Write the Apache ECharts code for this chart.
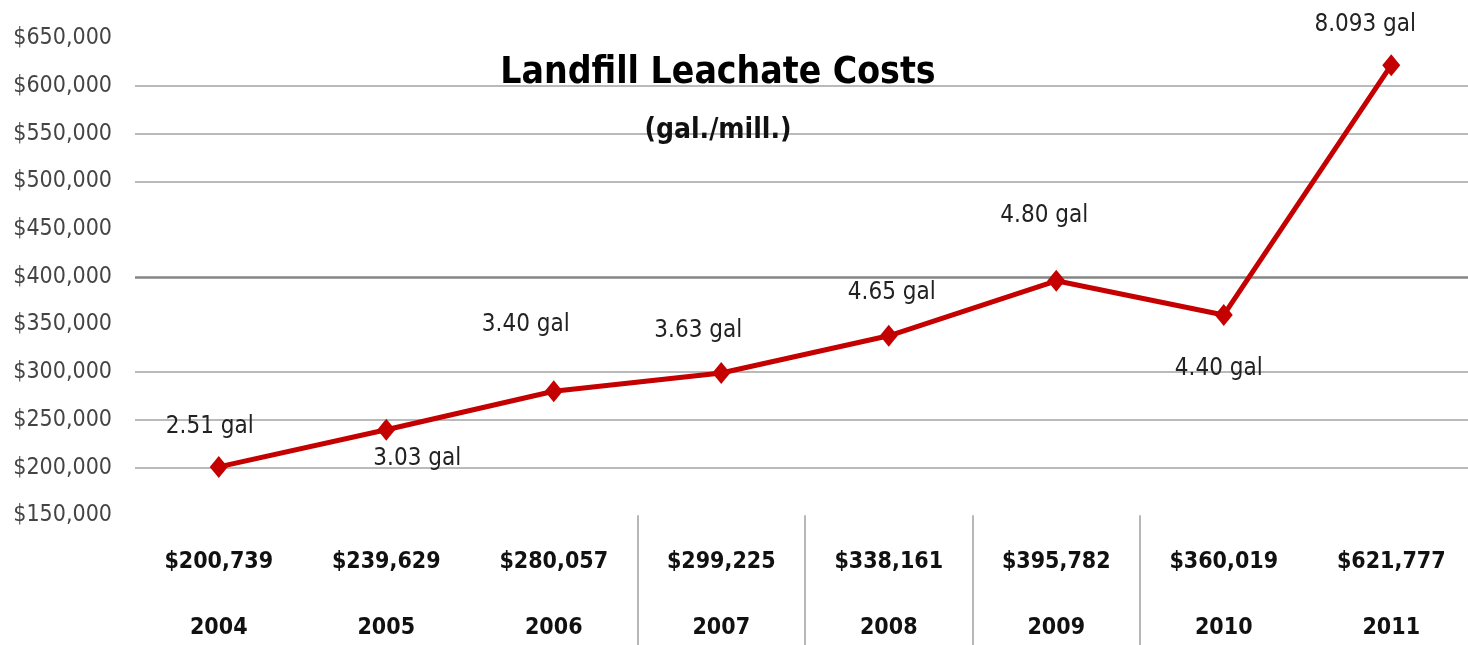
<!DOCTYPE html>
<html>
<head>
<meta charset="utf-8">
<script src="https://cdn.jsdelivr.net/npm/echarts@6/dist/echarts.min.js"></script>
<style>
html,body{margin:0;padding:0;background:#fff;}
#chart{width:1468px;height:645px;}
</style>
</head>
<body>
<div id="chart"></div>
<script>
// ---- data ----
var years = ['2004','2005','2006','2007','2008','2009','2010','2011'];
var costs = [200739, 239629, 280057, 299225, 338161, 395782, 360019, 621777];
var gallonLabels = ['2.51 gal','3.03 gal','3.40 gal','3.63 gal','4.65 gal','4.80 gal','4.40 gal','8.093 gal'];
var yTicks = [150000, 200000, 250000, 300000, 350000, 400000, 450000, 500000, 550000, 600000, 650000];
var gridValues = [200000, 250000, 300000, 400000, 500000, 550000, 600000];
var separatorIndices = [3, 4, 5, 6];

// ---- styling ----
var FONT = '"Liberation Sans Narrow","DejaVu Sans Condensed","Roboto",sans-serif';
var labelOffsets = [[-9,-40],[31,29],[-28,-66],[-23,-42],[3,-43],[-12,-65],[-5,54],[-26,-40]];

function money(v){ return '$' + v.toLocaleString('en-US'); }

var chart = echarts.init(document.getElementById('chart'));
var option = {
  animation: false,
  backgroundColor: '#fff',
  title: [
    {text: 'Landfill Leachate Costs', left: 713, top: 50, textAlign: 'center',
     textStyle: {fontFamily: FONT, fontSize: 37, fontWeight: 'bold', color: '#000'}},
    {text: '(gal./mill.)', left: 713, top: 112, textAlign: 'center',
     textStyle: {fontFamily: FONT, fontSize: 28, fontWeight: 'bold', color: '#111'}}
  ],
  grid: {left: 135, top: 38.3, width: 1340, height: 477, containLabel: false, outerBoundsMode: 'none'},
  xAxis: {
    type: 'category',
    data: years,
    boundaryGap: true,
    axisLine: {show: false},
    axisTick: {
      show: true, length: 130, inside: false,
      interval: function(i){ return separatorIndices.indexOf(i) >= 0; },
      lineStyle: {color: '#a0a0a0', width: 1.5}
    },
    axisLabel: {
      interval: 0, margin: 14,
      formatter: function(v, i){ return '{v|' + money(costs[i]) + '}\n{y|' + v + '}'; },
      rich: {
        v: {fontFamily: FONT, fontSize: 23, fontWeight: 'bold', color: '#111', lineHeight: 66, align: 'center'},
        y: {fontFamily: FONT, fontSize: 23, fontWeight: 'bold', color: '#111', lineHeight: 66, align: 'center'}
      }
    },
    splitLine: {show: false}
  },
  yAxis: {
    type: 'value',
    min: yTicks[0], max: yTicks[yTicks.length-1], interval: yTicks[1]-yTicks[0],
    axisLine: {show: false}, axisTick: {show: false},
    splitLine: {show: false},
    axisLabel: {
      margin: 23, color: '#444', fontFamily: FONT, fontSize: 23,
      formatter: function(v){ return money(v); }
    }
  },
  series: [
    {
      type: 'line', data: [], z: 1, silent: true,
      markLine: {
        silent: true, symbol: 'none', z: 1, label: {show: false},
        data: gridValues.map(function(v){
          var strong = v === 400000;
          return {yAxis: v, lineStyle: {type: 'solid', color: strong ? '#858585' : '#a3a3a3', width: strong ? 2.5 : 1.6}};
        })
      }
    },
    {
      type: 'line', z: 3,
      data: costs.map(function(c, i){
        return {value: c, label: {offset: labelOffsets[i]}};
      }),
      symbol: 'diamond', symbolSize: [18, 22],
      lineStyle: {color: '#c40000', width: 5},
      itemStyle: {color: '#c40000'},
      label: {
        show: true, position: 'inside', align: 'center', verticalAlign: 'middle',
        fontFamily: FONT, fontSize: 24, color: '#222',
        formatter: function(p){ return gallonLabels[p.dataIndex]; }
      }
    }
  ]
};
chart.setOption(option);
</script>
</body>
</html>
